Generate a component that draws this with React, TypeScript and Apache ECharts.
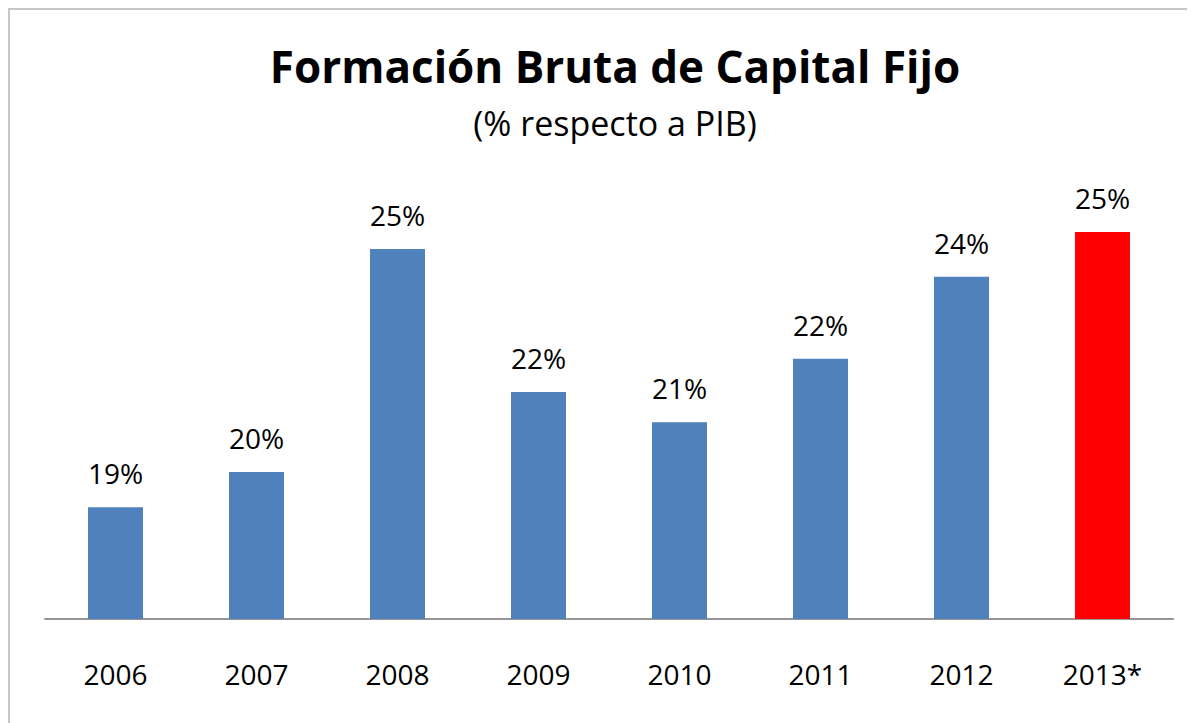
import React, { useEffect, useRef } from "react";
import * as echarts from "echarts";

const categories = ["2006", "2007", "2008", "2009", "2010", "2011", "2012", "2013*"];
const values = [19.33, 20.06, 24.71, 21.73, 21.1, 22.42, 24.13, 25.06];
const barColors = ["#4F81BD", "#4F81BD", "#4F81BD", "#4F81BD", "#4F81BD", "#4F81BD", "#4F81BD", "#FF0000"];
const titleText = "Formación Bruta de Capital Fijo";
const subtitleText = "(% respecto a PIB)";

const FONT = "'Open Sans', sans-serif";

export default function App() {
  const ref = useRef<HTMLDivElement>(null);
  useEffect(() => {
    if (!ref.current) return;
    const chart = echarts.init(ref.current, undefined, { renderer: "svg" });
    chart.setOption({
      animation: false,
      backgroundColor: "#ffffff",
      title: [
        {
          text: titleText,
          left: 600,
          top: 29,
          textAlign: "center",
          textStyle: { fontFamily: FONT, fontWeight: "bold", fontSize: 44, color: "#000" },
        },
        {
          text: subtitleText,
          left: 600,
          top: 91,
          textAlign: "center",
          textStyle: { fontFamily: FONT, fontWeight: "normal", fontSize: 34, color: "#000" },
        },
      ],
      grid: { left: 35, right: 24, top: 177, bottom: 106, containLabel: false },
      xAxis: {
        type: "category",
        data: categories,
        axisLine: { show: true, lineStyle: { color: "#969696", width: 2 } },
        axisTick: { show: false },
        axisLabel: { margin: 41, fontFamily: FONT, fontSize: 28, color: "#000" },
      },
      yAxis: {
        type: "value",
        min: 17,
        max: 26,
        show: false,
        splitLine: { show: false },
      },
      series: [
        {
          type: "bar",
          barWidth: 55,
          data: values.map((v, i) => ({ value: v, itemStyle: { color: barColors[i] } })),
          label: {
            show: true,
            position: "top",
            distance: 20,
            fontFamily: FONT,
            fontSize: 28,
            color: "#000",
            formatter: (p: any) => Math.round(p.value) + "%",
          },
        },
      ],
    });
    return () => chart.dispose();
  }, []);
  return (
    <div style={{ borderTop: "2px solid #c6c6c6", borderLeft: "2px solid #c6c6c6", width: 1187, height: 715 }}>
      <div ref={ref} style={{ width: 1187, height: 715 }} />
    </div>
  );
}
